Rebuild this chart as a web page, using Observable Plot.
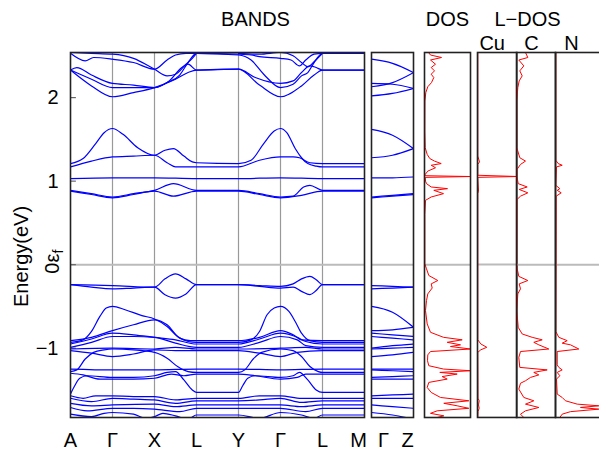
<!DOCTYPE html>
<html><head><meta charset="utf-8">
<script src="https://cdn.jsdelivr.net/npm/d3@7"></script>
<script src="https://cdn.jsdelivr.net/npm/@observablehq/plot@0.6"></script>
<style>
body{margin:0;background:#fff;}
#chart{position:relative;width:599px;height:451px;overflow:hidden;background:#fff;font-family:"Liberation Sans",Arial,sans-serif;}
#chart > svg{position:absolute;top:0;}
</style></head><body><div id="chart"></div>
<script>
// ---------- data ----------
const kTicks = [0,1,2,3,4,5,6,7];
const kNames = ["A","Γ","X","L","Y","Γ","L","M"];
const gzTicks = [0,1];
const gzNames = ["Γ","Z"];
const yTicks = [2,1,-1];
const yDomain = [-1.83, 2.54];

// main path bands: [k, E(eV)]
const condBands = [
  [[0,2.53],[0.35,2.44],[0.55,2.48],[1,2.46],[1.5,2.42],[2,2.34],[2.3,2.45],[2.5,2.51],[2.75,2.53],[3,2.53],[4,2.52],[4.3,2.51],[4.5,2.49],[5,2.47],[5.25,2.45],[5.45,2.38],[5.6,2.45],[5.8,2.52],[6,2.53],[7,2.53]],
  [[0,2.33],[0.15,2.36],[0.5,2.27],[1,2.17],[1.5,2.15],[2,2.12],[2.35,2.2],[2.65,2.36],[2.8,2.4],[3,2.33],[4,2.34],[4.4,2.24],[5,2.17],[5.3,2.2],[5.5,2.3],[5.7,2.38],[5.85,2.36],[6,2.33],[7,2.33]],
  [[0,2.33],[0.5,2.22],[1,2.12],[1.5,2.12],[2,2.12],[2.3,2.18],[2.6,2.27],[2.8,2.42],[3,2.53],[4,2.51],[4.3,2.45],[4.6,2.28],[5,2.12],[5.3,2.16],[5.5,2.26],[5.65,2.3],[5.8,2.42],[6,2.53],[7,2.53]],
  [[0,2.33],[0.5,2.14],[1,2.01],[1.5,2.06],[2,2.12],[2.5,2.22],[2.8,2.3],[3,2.33],[4,2.34],[4.5,2.15],[5,2.01],[5.5,2.14],[5.8,2.27],[6,2.33],[7,2.33]],
  [[0,2.54],[0.5,2.53],[1,2.52],[1.5,2.47],[2,2.34],[2.3,2.26],[2.5,2.28],[2.75,2.4],[2.9,2.47],[3,2.53]],
  [[4,2.53],[4.5,2.52],[5,2.54],[5.3,2.5],[5.5,2.42],[5.65,2.37],[5.8,2.43],[6,2.53]],
  [[0,1.21],[0.3,1.27],[0.6,1.45],[0.8,1.58],[1,1.63],[1.25,1.56],[1.6,1.4],[2,1.31],[2.25,1.37],[2.45,1.39],[2.7,1.3],[2.9,1.23],[3,1.22],[4,1.21],[4.3,1.25],[4.6,1.45],[4.85,1.6],[5,1.63],[5.15,1.58],[5.35,1.39],[5.5,1.28],[5.65,1.21],[5.85,1.18],[6,1.17],[7,1.17]],
  [[0,1.17],[0.5,1.24],[1,1.29],[1.5,1.3],[2,1.31],[2.3,1.22],[2.5,1.17],[3,1.17],[4,1.17],[4.5,1.25],[5,1.29],[5.3,1.29],[5.45,1.28],[5.7,1.22],[6,1.21],[7,1.21]],
  [[0,1.03],[1,1.04],[2,1.04],[3,1.03],[4,1.03],[5,1.04],[6,1.03],[7,1.03]],
  [[0,0.89],[0.5,0.85],[1,0.81],[1.5,0.85],[2,0.89],[2.45,0.97],[3,0.89],[4,0.89],[4.5,0.85],[5,0.81],[5.3,0.82],[5.55,0.93],[5.7,0.95],[6,0.89],[7,0.89]],
  [[0,0.88],[0.5,0.84],[1,0.80],[1.5,0.84],[2,0.88],[2.45,0.82],[3,0.88],[4,0.88],[4.5,0.84],[5,0.80],[5.5,0.83],[6,0.88],[7,0.88]]
];
const valBands = [
  [[0,-0.24],[1,-0.25],[2,-0.27],[2.25,-0.17],[2.5,-0.11],[2.75,-0.17],[3,-0.24],[4,-0.24],[4.5,-0.25],[5,-0.26],[5.3,-0.23],[5.5,-0.17],[5.7,-0.14],[5.85,-0.18],[6,-0.24],[7,-0.24]],
  [[0,-0.24],[0.5,-0.27],[1,-0.29],[1.5,-0.28],[2,-0.27],[2.25,-0.36],[2.5,-0.4],[2.75,-0.35],[3,-0.24],[4,-0.24],[4.5,-0.26],[5,-0.28],[5.3,-0.27],[5.5,-0.32],[5.7,-0.36],[5.85,-0.31],[6,-0.24],[7,-0.24]],
  [[0,-0.93],[0.3,-0.9],[0.5,-0.8],[0.7,-0.62],[0.85,-0.52],[1,-0.5],[1.3,-0.54],[1.7,-0.61],[2,-0.65],[2.3,-0.74],[2.55,-0.86],[2.8,-0.92],[3,-0.93],[4,-0.93],[4.3,-0.9],[4.5,-0.8],[4.68,-0.6],[4.85,-0.52],[5,-0.5],[5.2,-0.56],[5.35,-0.68],[5.5,-0.82],[5.7,-0.91],[6,-0.93],[7,-0.93]],
  [[0,-0.91],[0.5,-0.87],[1,-0.79],[1.5,-0.72],[2,-0.66],[2.3,-0.72],[2.6,-0.88],[2.85,-0.91],[3,-0.91],[4,-0.91],[4.5,-0.87],[5,-0.79],[5.3,-0.84],[5.5,-0.9],[6,-0.91],[7,-0.91]],
  [[0,-0.95],[0.5,-0.89],[1,-0.82],[1.5,-0.84],[2,-0.87],[2.5,-0.9],[3,-0.95],[4,-0.95],[4.5,-0.89],[5,-0.82],[5.4,-0.87],[5.6,-0.92],[6,-0.95],[7,-0.95]],
  [[0,-0.99],[0.5,-0.93],[1,-0.86],[1.5,-0.86],[2,-0.87],[2.5,-0.94],[3,-0.99],[4,-0.99],[4.5,-0.93],[5,-0.86],[5.4,-0.9],[5.6,-0.97],[6,-0.99],[7,-0.99]],
  [[0,-1.01],[1,-1.0],[2,-1.01],[2.5,-0.99],[3,-1.01],[4,-1.01],[5,-1.0],[5.6,-0.99],[6,-1.01],[7,-1.01]],
  [[0,-1.03],[0.5,-1.06],[1,-1.1],[1.5,-1.07],[2,-1.02],[2.5,-1.03],[3,-1.03],[4,-1.03],[4.5,-1.06],[5,-1.1],[5.4,-1.05],[6,-1.03],[7,-1.03]],
  [[0,-1.28],[0.15,-1.26],[0.35,-1.13],[0.55,-1.05],[0.8,-1.02],[1,-1.01],[1.5,-1.02],[2,-1.05],[2.3,-1.12],[2.55,-1.22],[2.8,-1.28],[3,-1.29],[4,-1.29],[4.15,-1.26],[4.35,-1.13],[4.55,-1.05],[5,-1.01],[5.3,-1.03],[5.5,-1.1],[5.7,-1.22],[5.9,-1.28],[6,-1.29],[7,-1.29]],
  [[0,-1.25],[1,-1.26],[2,-1.26],[3,-1.25],[4,-1.25],[5,-1.26],[6,-1.25],[7,-1.25]],
  [[0,-1.3],[0.3,-1.32],[0.7,-1.37],[1,-1.37],[1.5,-1.37],[2,-1.36],[2.4,-1.31],[2.7,-1.33],[3,-1.31],[4,-1.31],[4.4,-1.33],[5,-1.37],[5.4,-1.35],[5.6,-1.31],[6,-1.31],[7,-1.31]],
  [[0,-1.55],[0.1,-1.45],[0.22,-1.36],[0.4,-1.33],[1,-1.35],[1.5,-1.35],[2,-1.33],[2.3,-1.29],[2.5,-1.28],[2.7,-1.38],[2.9,-1.5],[3,-1.53],[4,-1.53],[4.1,-1.45],[4.22,-1.36],[4.4,-1.33],[5,-1.35],[5.3,-1.33],[5.45,-1.29],[5.65,-1.38],[5.85,-1.5],[6,-1.53],[7,-1.53]],
  [[0,-1.57],[0.3,-1.6],[0.6,-1.57],[1,-1.57],[1.5,-1.58],[2,-1.58],[2.5,-1.62],[3,-1.6],[4,-1.6],[4.5,-1.57],[5,-1.57],[5.5,-1.6],[6,-1.6],[7,-1.6]],
  [[0,-1.6],[0.5,-1.64],[1,-1.6],[1.5,-1.61],[2,-1.62],[2.5,-1.66],[3,-1.63],[4,-1.63],[4.5,-1.62],[5,-1.6],[5.5,-1.65],[6,-1.63],[7,-1.63]],
  [[0,-1.66],[0.5,-1.69],[1,-1.68],[2,-1.67],[2.5,-1.7],[3,-1.68],[4,-1.68],[5,-1.68],[5.5,-1.7],[6,-1.68],[7,-1.68]],
  [[0,-1.71],[0.4,-1.75],[1,-1.72],[1.5,-1.72],[2,-1.73],[2.6,-1.76],[3,-1.72],[4,-1.72],[5,-1.72],[5.6,-1.76],[6,-1.72],[7,-1.72]],
  [[0,-1.79],[0.5,-1.82],[0.8,-1.78],[1,-1.77],[1.5,-1.79],[1.8,-1.84],[2,-1.82],[2.2,-1.78],[2.5,-1.81],[2.8,-1.85],[3,-1.8],[4,-1.8],[4.5,-1.84],[5,-1.77],[5.5,-1.8],[5.8,-1.84],[6,-1.8],[7,-1.8]]
];

// Γ–Z panel: energies at t = 0, 0.5, 1
const gzKnots = [0, 0.5, 1];
const gzBands = [
  [2.46,2.41,2.30],[2.17,2.16,2.11],[2.13,2.18,2.30],[2.02,2.05,2.11],
  [1.62,1.55,1.39],[1.28,1.31,1.39],[1.04,1.04,1.05],[0.81,0.83,0.85],[0.80,0.82,0.84],
  [-0.25,-0.26,-0.27],[-0.29,-0.28,-0.27],[-0.5,-0.57,-0.75],[-0.79,-0.78,-0.75],
  [-0.82,-0.84,-0.86],[-0.86,-0.88,-0.9],[-1.0,-0.97,-0.95],[-1.01,-1.0,-0.99],[-1.1,-1.08,-1.05],
  [-1.25,-1.25,-1.25],[-1.26,-1.27,-1.28],[-1.37,-1.37,-1.37],[-1.35,-1.34,-1.33],
  [-1.57,-1.56,-1.55],[-1.6,-1.6,-1.6],[-1.68,-1.7,-1.72],[-1.77,-1.8,-1.85]
];

// DOS curves: [E(eV), value]
const dosTotal = [[2.54,4],[2.51,6],[2.48,17],[2.45,6],[2.40,11],[2.36,6.7],[2.32,10],[2.28,6.7],[2.24,9.3],[2.18,7],[2.13,3.3],[2.06,1.3],[1.96,0.4],[1.6,0.3],[1.40,0.7],[1.32,2.7],[1.27,5.3],[1.24,10],[1.21,16.7],[1.19,6.7],[1.16,11],[1.12,3.3],[1.08,0.7],[1.065,0.7],[1.055,46],[1.045,0.7],[1.00,1],[0.97,2],[0.93,6.7],[0.91,23],[0.89,9.3],[0.85,19],[0.81,6.7],[0.77,1],[0.6,0.3],[0.01,0.3],[-0.05,2],[-0.13,4.3],[-0.19,13.3],[-0.23,6.7],[-0.28,7.7],[-0.35,3.3],[-0.43,2],[-0.55,1],[-0.71,2.7],[-0.81,6],[-0.87,19],[-0.90,37.7],[-0.93,22.7],[-0.96,36],[-0.98,26],[-1.01,46],[-1.04,6],[-1.08,3.3],[-1.15,3],[-1.21,4.3],[-1.25,19],[-1.27,46],[-1.29,15.3],[-1.31,32.7],[-1.34,17.7],[-1.37,22.7],[-1.41,4.3],[-1.47,2.7],[-1.53,6.7],[-1.59,16],[-1.63,44.3],[-1.66,19.3],[-1.69,32.7],[-1.72,44.3],[-1.75,12.7],[-1.78,6],[-1.81,19.3],[-1.84,9.3]];
const dosCu = [[2.54,0.3],[1.3,0.3],[1.23,2],[1.2,0.3],[1.07,0.3],[1.055,40],[1.045,0.3],[0.88,1],[0.85,0.3],[-0.9,0.3],[-0.95,3.3],[-0.99,9.3],[-1.02,3.3],[-1.05,0.3],[-1.6,0.5],[-1.63,1.7],[-1.68,1],[-1.72,1.7],[-1.76,0.5],[-1.84,0.3]];
const dosC = [[2.54,9],[2.48,11.3],[2.45,2.3],[2.38,7.3],[2.32,3.3],[2.26,5.7],[2.2,2.7],[2.12,1.3],[1.96,0.3],[1.4,0.3],[1.28,3.3],[1.24,9],[1.20,4],[1.14,0.5],[1.05,0.5],[0.97,1.7],[0.93,10.7],[0.90,2.7],[0.86,11.3],[0.82,4],[0.78,0.5],[0.01,0.3],[-0.05,0.7],[-0.14,2.3],[-0.19,11.3],[-0.23,2.7],[-0.29,4],[-0.35,1.3],[-0.55,0.3],[-0.75,1.7],[-0.83,5.7],[-0.87,15.7],[-0.90,25.7],[-0.93,17.3],[-0.96,22.3],[-1.01,32.3],[-1.04,4],[-1.11,2.3],[-1.23,3.3],[-1.26,30.7],[-1.29,17.3],[-1.32,22.3],[-1.35,14],[-1.39,9],[-1.42,4],[-1.49,2.3],[-1.59,7.3],[-1.63,17.3],[-1.67,9],[-1.71,22.3],[-1.75,9],[-1.79,4],[-1.83,7.3]];
const dosN = [[2.54,0.3],[1.25,0.3],[1.21,2.7],[1.19,6.7],[1.17,1],[0.95,0.3],[0.91,4.3],[0.89,1.7],[0.86,5.7],[0.82,0.7],[-0.8,0.3],[-0.87,3.3],[-0.91,11.7],[-0.94,6.7],[-0.96,15],[-1.01,23.3],[-1.04,1.7],[-1.2,1.7],[-1.23,3.3],[-1.26,6.7],[-1.29,1.7],[-1.33,4.3],[-1.37,1],[-1.55,1.7],[-1.59,6.7],[-1.63,10],[-1.67,21.7],[-1.69,43.3],[-1.71,25],[-1.73,43.3],[-1.76,15],[-1.79,6.7],[-1.83,4.3]];

// ---------- drawing ----------
const H = 451, MT = 52, MB = 34;
const FONT = '"Liberation Sans", Arial, sans-serif';
const STYLE = {overflow: "visible", background: "transparent", fontFamily: FONT, fontSize: "20px", color: "black"};
const chart = document.getElementById("chart");
function place(svg, left) { svg.style.left = left + "px"; chart.appendChild(svg); return svg; }
const zeroLine = () => Plot.ruleY([0], {stroke: "#bbb", strokeWidth: 2});
const border = () => Plot.frame({stroke: "#222", strokeWidth: 1.6});
const T = {fontSize: 20, lineAnchor: "middle"};
const fmt = d => d < 0 ? "−" + (-d) : String(d);

const bandRows = [...condBands, ...valBands].flatMap((b, i) => b.map(([k, e]) => ({band: i, k, e})));
const mainSvg = Plot.plot({
  width: 366, height: H, marginLeft: 70, marginRight: 2, marginTop: MT, marginBottom: MB,
  x: {domain: [0, 7], axis: null},
  y: {domain: yDomain, axis: null},
  style: STYLE,
  marks: [
    Plot.ruleX(kTicks.slice(1, 7), {stroke: "#999", strokeWidth: 1.2}),
    zeroLine(),
    Plot.ruleY([2, 1, 0, -1], {x1: 0, x2: 0.14, stroke: "#666", strokeWidth: 1.2}),
    Plot.line(bandRows, {x: "k", y: "e", z: "band", stroke: "#0000ff", strokeWidth: 1.2, curve: "monotone-x", clip: true}),
    border(),
    Plot.axisY(yTicks, {tickSize: 0, tickPadding: 12, fontSize: 20, label: null, tickFormat: fmt}),
    Plot.text(kNames.slice(0, 7), {x: kTicks.slice(0, 7), frameAnchor: "bottom", dy: 23, ...T}),
    Plot.text(kNames.slice(7), {x: kTicks.slice(7), frameAnchor: "bottom", dy: 23, dx: -6, ...T}),
    Plot.text(["BANDS"], {frameAnchor: "top", dx: 38, dy: -33, ...T}),
    Plot.text(["Energy(eV)"], {frameAnchor: "left", rotate: -90, textAnchor: "middle", dx: -49, dy: 21.5, ...T}),
    Plot.text([0], {y: d => d, text: () => "0εf", frameAnchor: "left", rotate: -90, textAnchor: "start", dx: -18, dy: 9, className: "eflabel", ...T})
  ]
});
place(mainSvg, 0);
const ef = mainSvg.querySelector(".eflabel text");
if (ef) ef.innerHTML = '0ε<tspan dy="0.3em" font-size="14px">f</tspan>';

const gzRows = gzBands.flatMap((b, i) => b.map((e, j) => ({band: i, t: gzKnots[j], e})));
place(Plot.plot({
  width: 46, height: H, marginLeft: 2, marginRight: 2, marginTop: MT, marginBottom: MB,
  x: {domain: [0, 1], axis: null}, y: {domain: yDomain, axis: null}, style: STYLE,
  marks: [
    zeroLine(),
    Plot.line(gzRows, {x: "t", y: "e", z: "band", stroke: "#0000ff", strokeWidth: 1.2, curve: "monotone-x", clip: true}),
    border(),
    Plot.text(gzNames.slice(0, 1), {x: gzTicks.slice(0, 1), frameAnchor: "bottom", dy: 23, dx: 12, ...T}),
    Plot.text(gzNames.slice(1), {x: gzTicks.slice(1), frameAnchor: "bottom", dy: 23, dx: -6, ...T})
  ]
}), 369);

function dosPanel(data, left, width, ml, mr, extra) {
  return place(Plot.plot({
    width, height: H, marginLeft: ml, marginRight: mr, marginTop: MT, marginBottom: MB,
    x: {domain: [0, width - ml - mr], axis: null}, y: {domain: yDomain, axis: null}, style: STYLE,
    marks: [
      zeroLine(),
      Plot.line(data, {x: d => d[1], y: d => d[0], stroke: "#ff0000", strokeWidth: 1, clip: true}),
      border(),
      ...extra
    ]
  }), left);
}
dosPanel(dosTotal, 422, 50, 2, 2, [Plot.text(["DOS"], {frameAnchor: "top", dy: -33, ...T})]);
dosPanel(dosCu, 474.7, 43.3, 2, 2, [Plot.text(["Cu"], {frameAnchor: "top", dx: -5, dy: -9, ...T})]);
dosPanel(dosC, 514, 43, 2, 2, [
  Plot.text(["L−DOS"], {frameAnchor: "top", dx: -8.5, dy: -33, ...T}),
  Plot.text(["C"], {frameAnchor: "top", dx: -4.5, dy: -9, ...T})
]);
dosPanel(dosN, 553, 52, 2, 1, [Plot.text(["N"], {frameAnchor: "top", dx: -8.5, dy: -9, ...T})]);
</script></body></html>
